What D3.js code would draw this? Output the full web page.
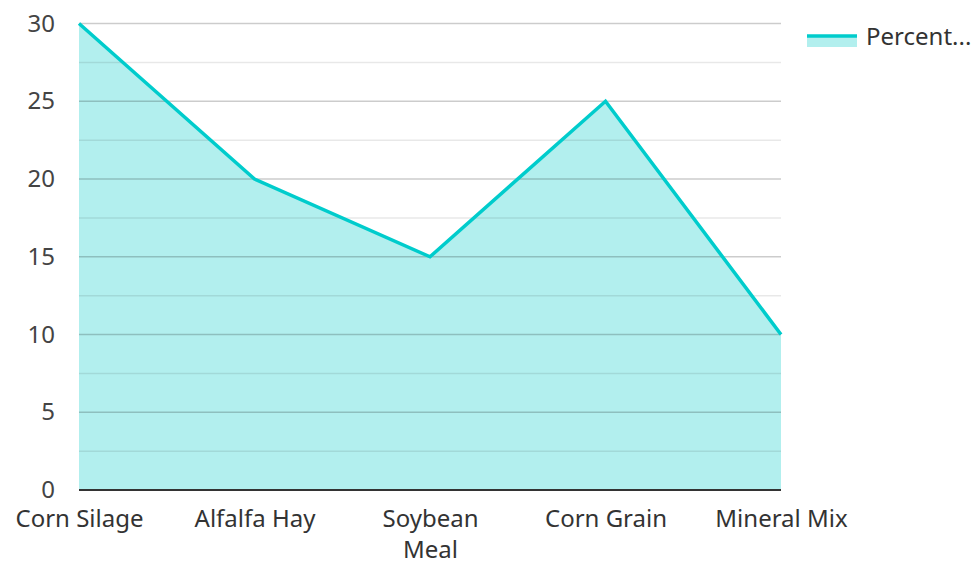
<!DOCTYPE html>
<html>
<head>
<meta charset="utf-8">
<script src="https://cdn.jsdelivr.net/npm/d3@7"></script>
<style>
  body { margin: 0; background: #fff; }
  text { font-family: "Noto Sans", "Open Sans", sans-serif; fill: #333; }
</style>
</head>
<body>
<div id="chart"></div>
<script>
// chart data
var categories = ["Corn Silage", "Alfalfa Hay", "Soybean Meal", "Corn Grain", "Mineral Mix"];
var percent = [30, 20, 15, 25, 10];
var y_ticks = [0, 5, 10, 15, 20, 25, 30];
var minor_ticks = [2.5, 7.5, 12.5, 17.5, 22.5, 27.5];
var series_name = "Percent...";

var svg_width = 976;
var svg_height = 562;
var margin = { top: 23.5, right: 195, bottom: 72, left: 79 };
var width = svg_width - margin.left - margin.right;
var height = svg_height - margin.top - margin.bottom;

var svg = d3.select("#chart")
    .append("svg")
    .attr("width", svg_width)
    .attr("height", svg_height);

var chart = svg.append("g")
    .attr("transform", `translate(${margin.left}, ${margin.top})`);

var x_scale = d3.scalePoint()
    .domain(categories)
    .range([0, width]);

var y_scale = d3.scaleLinear()
    .domain([0, 30])
    .range([height, 0]);

var rows = categories.map((c, i) => ({ cat: c, val: percent[i] }));

// area fill
var area = d3.area()
    .x(d => x_scale(d.cat))
    .y0(y_scale(0))
    .y1(d => y_scale(d.val));

chart.append("path")
    .datum(rows)
    .attr("d", area)
    .attr("fill", "#b2efee");

// gridlines over the fill
chart.selectAll(".minor")
    .data(minor_ticks)
    .enter()
    .append("line")
    .attr("x1", 0)
    .attr("x2", width)
    .attr("y1", d => y_scale(d))
    .attr("y2", d => y_scale(d))
    .attr("stroke", "#000")
    .attr("stroke-opacity", 0.09)
    .attr("stroke-width", 1.5);

chart.selectAll(".major")
    .data(y_ticks.filter(d => d > 0))
    .enter()
    .append("line")
    .attr("x1", 0)
    .attr("x2", width)
    .attr("y1", d => y_scale(d))
    .attr("y2", d => y_scale(d))
    .attr("stroke", "#000")
    .attr("stroke-opacity", 0.2)
    .attr("stroke-width", 1.5);

// line
var line = d3.line()
    .x(d => x_scale(d.cat))
    .y(d => y_scale(d.val));

chart.append("path")
    .datum(rows)
    .attr("d", line)
    .attr("fill", "none")
    .attr("stroke", "#00cccc")
    .attr("stroke-width", 3.5)
    .attr("stroke-linejoin", "miter");

// y axis
var left_axis = d3.axisLeft(y_scale)
    .tickValues(y_ticks)
    .tickSize(0)
    .tickPadding(24);

var y_axis = chart.append("g").call(left_axis);
y_axis.select(".domain").remove();
y_axis.selectAll("text")
    .style("font-size", "24px")
    .style("fill", "#444")
    .style("font-family", "'Noto Sans', sans-serif");

// x axis
var bottom_axis = d3.axisBottom(x_scale)
    .tickSize(0)
    .tickPadding(20);

var x_axis = chart.append("g")
    .attr("transform", `translate(0, ${height})`)
    .call(bottom_axis);
x_axis.select(".domain").remove();
x_axis.selectAll("text")
    .style("font-size", "24px")
    .style("fill", "#333")
    .style("font-family", "'Noto Sans', sans-serif")
    .call(wrap, 145);

chart.append("line")
    .attr("x1", 0)
    .attr("x2", width)
    .attr("y1", height)
    .attr("y2", height)
    .attr("stroke", "#333")
    .attr("stroke-width", 2);

function wrap(texts, w) {
    texts.each(function() {
        var text = d3.select(this);
        var words = text.text().split(" ");
        var y = text.attr("y");
        var dy = parseFloat(text.attr("dy"));
        text.text(null);
        var tspan = text.append("tspan").attr("x", 0).attr("y", y).attr("dy", dy + "em");
        var line = [];
        var lineNo = 0;
        words.forEach(function(word) {
            line.push(word);
            tspan.text(line.join(" "));
            if (tspan.node().getComputedTextLength() > w && line.length > 1) {
                line.pop();
                tspan.text(line.join(" "));
                line = [word];
                lineNo++;
                tspan = text.append("tspan").attr("x", 0).attr("y", y)
                    .attr("dy", (dy + lineNo * 1.3) + "em").text(word);
            }
        });
    });
}

// legend
var legend = svg.append("g")
    .attr("transform", "translate(807, 36)");

legend.append("rect")
    .attr("x", 0)
    .attr("y", 0)
    .attr("width", 50)
    .attr("height", 11)
    .attr("fill", "#b2efee");

legend.append("line")
    .attr("x1", 0)
    .attr("x2", 50)
    .attr("y1", 0)
    .attr("y2", 0)
    .attr("stroke", "#00cccc")
    .attr("stroke-width", 3.5);

legend.append("text")
    .attr("x", 59)
    .attr("y", 8.5)
    .style("font-size", "24px")
    .style("fill", "#333")
    .text(series_name);
</script>
</body>
</html>
